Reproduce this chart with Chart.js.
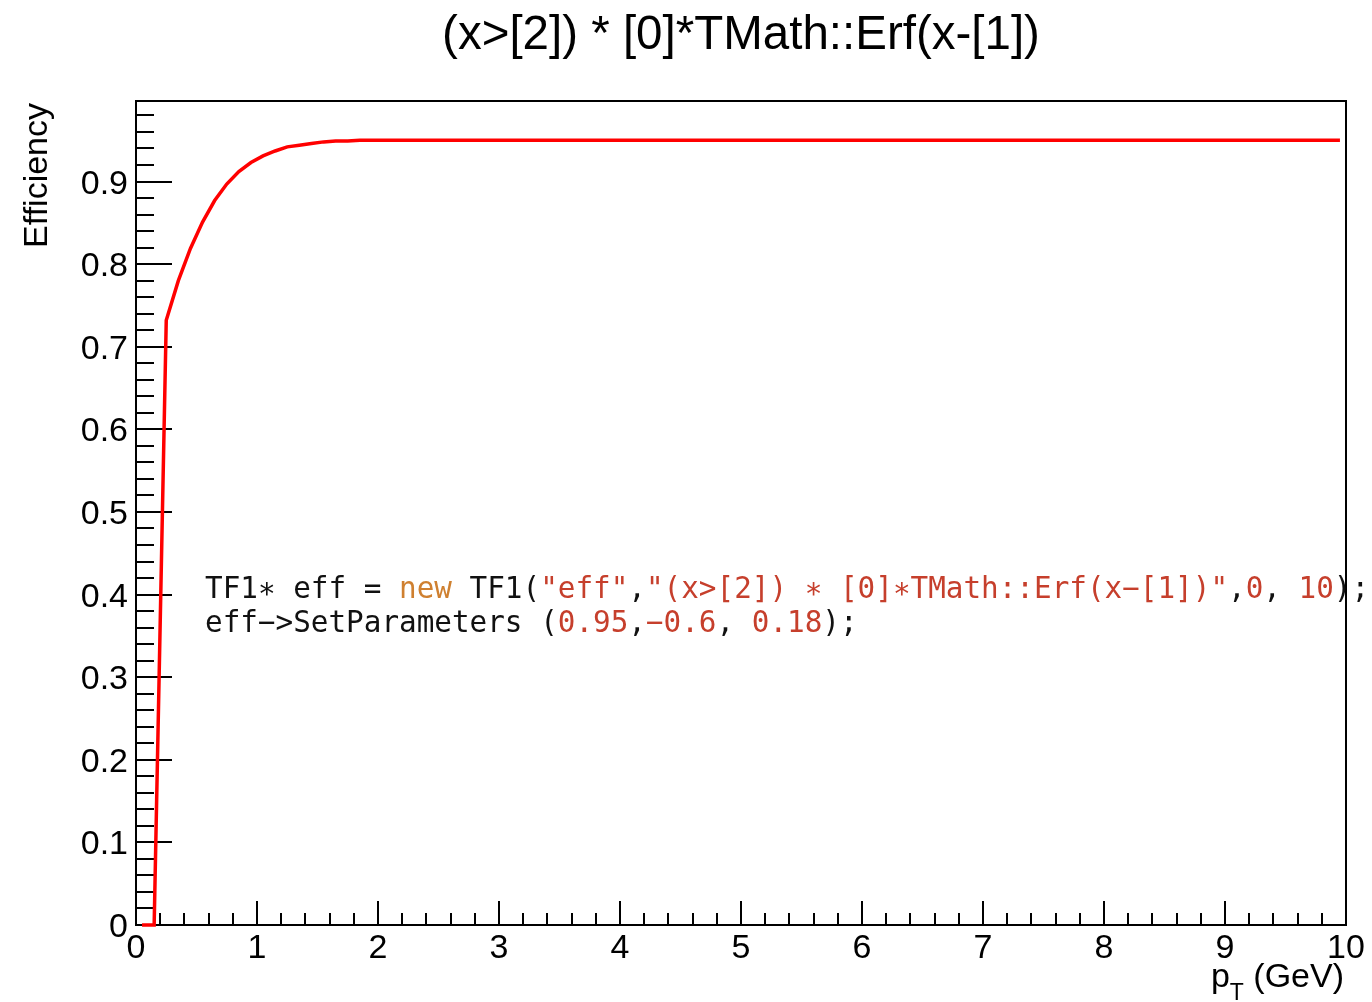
<!DOCTYPE html>
<html>
<head>
<meta charset="utf-8">
<script src="https://cdn.jsdelivr.net/npm/chart.js@4"></script>
<style>
  html, body { margin: 0; padding: 0; background: #fff; }
  #wrap { width: 1372px; height: 1002px; }
</style>
</head>
<body>
<div id="wrap"><canvas id="eff"></canvas></div>
<script>
const ptValues = [0.05, 0.15, 0.25, 0.35, 0.45, 0.55, 0.65, 0.75, 0.85, 0.95,
                  1.05, 1.15, 1.25, 1.35, 1.45, 1.55, 1.65, 1.75, 1.85, 1.95, 9.95]
const effValues = [0, 0, 0.732, 0.780, 0.819, 0.851, 0.877, 0.897, 0.912, 0.923,
                   0.931, 0.937, 0.942, 0.944, 0.946, 0.948, 0.949, 0.949, 0.950, 0.950, 0.950]

const xTickLabels = ['0', '1', '2', '3', '4', '5', '6', '7', '8', '9', '10']
const yTickLabels = ['0', '0.1', '0.2', '0.3', '0.4', '0.5', '0.6', '0.7', '0.8', '0.9']
const xMax = 10
const yMax = 0.9975

const titleText = '(x>[2]) * [0]*TMath::Erf(x-[1])'
// code snippet pieces: [text, colour]
const codeLine1 = [
    ['TF1\u2217 eff = ', '#111'], ['new', '#cf8030'], [' TF1(', '#111'],
    ['"eff"', '#c63f2c'], [',', '#111'], ['"(x>[2]) \u2217 [0]\u2217TMath::Erf(x\u2212[1])"', '#c63f2c'],
    [',', '#111'], ['0', '#c63f2c'], [', ', '#111'], ['10', '#c63f2c'], [');', '#111']
]
const codeLine2 = [
    ['eff\u2212>SetParameters (', '#111'], ['0.95', '#c63f2c'], [',', '#111'],
    ['\u22120.6', '#c63f2c'], [', ', '#111'], ['0.18', '#c63f2c'], [');', '#111']
]

const points = ptValues.map((x, i) => ({ x: x, y: effValues[i] }))

const labelFont = '34px "Liberation Sans", Arial, sans-serif'

const rootFrame = {
    id: 'rootFrame',
    beforeDatasetsDraw(chart) {
        const ctx = chart.ctx
        const a = chart.chartArea
        const xs = chart.scales.x
        const ys = chart.scales.y
        ctx.save()
        ctx.strokeStyle = '#000'
        ctx.fillStyle = '#000'

        // frame
        ctx.lineWidth = 2
        ctx.strokeRect(a.left, a.top, a.right - a.left, a.bottom - a.top)

        // x ticks (inward)
        ctx.beginPath()
        for (let i = 0; i <= xMax * 5; i++) {
            const v = i / 5
            const px = Math.round(xs.getPixelForValue(v))
            const len = (i % 5 === 0) ? 24 : 12
            ctx.moveTo(px, a.bottom)
            ctx.lineTo(px, a.bottom - len)
        }
        // y ticks (inward)
        for (let i = 0; i <= 49; i++) {
            const v = i / 50
            const py = Math.round(ys.getPixelForValue(v))
            const len = (i % 5 === 0) ? 36 : 18
            ctx.moveTo(a.left, py)
            ctx.lineTo(a.left + len, py)
        }
        ctx.stroke()

        // tick labels
        ctx.font = labelFont
        ctx.textBaseline = 'alphabetic'
        ctx.textAlign = 'center'
        xTickLabels.forEach((lab, i) => {
            ctx.fillText(lab, xs.getPixelForValue(i), 958)
        })
        ctx.textAlign = 'right'
        yTickLabels.forEach((lab, i) => {
            ctx.fillText(lab, 128, ys.getPixelForValue(i / 10) + 12)
        })

        // title
        ctx.font = '47.5px "Liberation Sans", Arial, sans-serif'
        ctx.textAlign = 'center'
        ctx.fillText(titleText, 741, 49)

        // y axis title
        ctx.font = labelFont
        ctx.save()
        ctx.translate(47, 103)
        ctx.rotate(-Math.PI / 2)
        ctx.textAlign = 'right'
        ctx.fillText('Efficiency', 0, 0)
        ctx.restore()

        // x axis title: p_T (GeV)
        ctx.textAlign = 'left'
        const gev = ' (GeV)'
        const wGev = ctx.measureText(gev).width
        ctx.font = '23px "Liberation Sans", Arial, sans-serif'
        const wT = ctx.measureText('T').width
        ctx.font = labelFont
        const wP = ctx.measureText('p').width
        let x0 = 1344 - wGev - wT - wP
        ctx.fillText('p', x0, 987)
        ctx.font = '23px "Liberation Sans", Arial, sans-serif'
        ctx.fillText('T', x0 + wP, 1000)
        ctx.font = labelFont
        ctx.fillText(gev, x0 + wP + wT, 987)

        // code text
        ctx.font = '29.3px "DejaVu Sans Mono", monospace'
        const drawLine = (parts, x, y) => {
            for (const [txt, col] of parts) {
                ctx.fillStyle = col
                ctx.fillText(txt, x, y)
                x += ctx.measureText(txt).width
            }
        }
        drawLine(codeLine1, 205, 598)
        drawLine(codeLine2, 205, 632)
        ctx.restore()
    }
}

const ctx = document.getElementById('eff')
const myChart = new Chart(ctx, {
    type: 'scatter',
    data: {
        datasets: [{
            label: 'eff',
            data: points,
            showLine: true,
            borderColor: '#ff0000',
            borderWidth: 3.5,
            pointRadius: 0,
            tension: 0,
            fill: false,
            clip: 4
        }]
    },
    options: {
        responsive: true,
        maintainAspectRatio: false,
        animation: false,
        layout: { padding: { left: 136, top: 101, right: 26, bottom: 77 } },
        plugins: { legend: { display: false }, tooltip: { enabled: false }, title: { display: false } },
        scales: {
            x: { type: 'linear', min: 0, max: xMax, display: false },
            y: { type: 'linear', min: 0, max: yMax, display: false }
        }
    },
    plugins: [rootFrame]
})
</script>
</body>
</html>
